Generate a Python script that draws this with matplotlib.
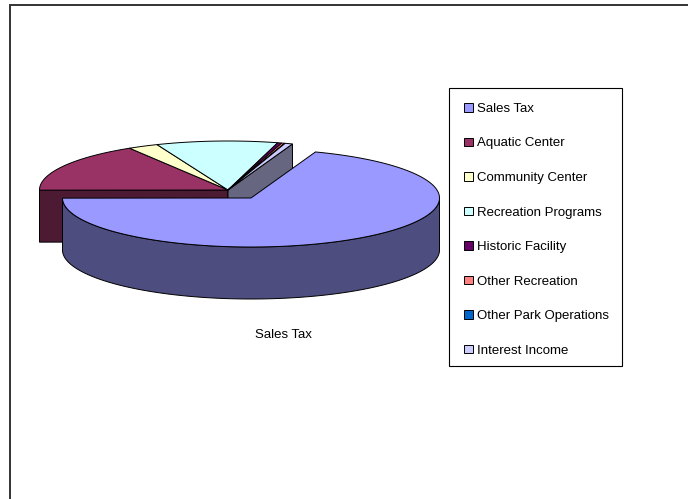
import numpy as np
import matplotlib
matplotlib.use("Agg")
import matplotlib.pyplot as plt
from matplotlib.patches import Polygon, Patch, Rectangle
from matplotlib.legend_handler import HandlerPatch

plt.rcParams['font.family'] = ['Liberation Sans', 'DejaVu Sans']

categories = ["Sales Tax", "Aquatic Center", "Community Center", "Recreation Programs",
              "Historic Facility", "Other Recreation", "Other Park Operations", "Interest Income"]
shares = [69.4, 16.3, 2.6, 10.4, 0.35, 0.25, 0.05, 0.65]
top_colors = ["#9999FF", "#993366", "#FFFFCC", "#CCFFFF", "#660066", "#FF8080", "#0066CC", "#CCCCFF"]
side_colors = ["#4D4D80", "#4D1A33", "#808066", "#668080", "#330033", "#804040", "#003366", "#666680"]
title = "Sales Tax"

# pie geometry in pixels
center = (228.0, 190.0)
explode_center = (251.0, 198.0)
rx, ry = 188.5, 49.0
depth = 52.0
start_deg = 20.0  # clockwise from north


def rim(cx, cy, a0, a1):
    a = np.radians(np.linspace(a0, a1, max(int(abs(a1 - a0) * 2), 2)))
    return np.column_stack([cx + rx * np.sin(a), cy - ry * np.cos(a)])


def cut_wall(ax, cx, cy, a, side):
    p = rim(cx, cy, a, a)[0]
    wall = [(cx, cy), p, (p[0], p[1] + depth), (cx, cy + depth)]
    ax.add_patch(Polygon(wall, closed=True, fc=side, ec="black", lw=0.7))


def outer_wall(ax, cx, cy, a0, a1, side):
    # only the front half of the ellipse can be seen
    lo, hi = max(a0, 90), min(a1, 270)
    edge = rim(cx, cy, lo, hi)
    wall = np.vstack([edge, edge[::-1] + [0, depth]])
    ax.add_patch(Polygon(wall, closed=True, fc=side, ec="black", lw=0.7))


def top_face(ax, cx, cy, a0, a1, top):
    pts = np.vstack([[(cx, cy)], rim(cx, cy, a0, a1)])
    ax.add_patch(Polygon(pts, closed=True, fc=top, ec="black", lw=0.7))


def inset_square(legend, orig_handle, xdescent, ydescent, width, height, fontsize):
    # legend key sits a bit to the right of the box padding
    side = 8.5 * 72 / 100
    return Rectangle((width - side - 0.5, (height - side) / 2 - ydescent), side, side)


fig = plt.figure(figsize=(6.88, 4.99), dpi=100)
ax = fig.add_axes([0, 0, 1, 1])
ax.set_xlim(0, 688)
ax.set_ylim(499, 0)
ax.axis("off")

# chart frame runs off the right and bottom of the image
ax.plot([10, 10, 688], [499, 5, 5], color="#333333", lw=1.4, solid_joinstyle="miter")

edges = start_deg + np.cumsum([0] + shares) * 3.6

# the rest of the pie first, walls then tops
cut_wall(ax, center[0], center[1], edges[1], side_colors[1])
cut_wall(ax, center[0], center[1], edges[-1], side_colors[-1])
for i in range(1, len(shares)):
    top_face(ax, center[0], center[1], edges[i], edges[i + 1], top_colors[i])

# pulled out slice on top
outer_wall(ax, explode_center[0], explode_center[1], edges[0], edges[1], side_colors[0])
top_face(ax, explode_center[0], explode_center[1], edges[0], edges[1], top_colors[0])

ax.text(283.5, 335, title, fontsize=9.5, ha="center", va="center", color="black")

# legend box drawn apart, its padding is not the same on all sides
ax.add_patch(Rectangle((449, 88), 173, 277.5, fc="white", ec="black", lw=0.8))
handles = [Patch(fc=c, ec="black", lw=0.7) for c in top_colors]
leg = ax.legend(handles, categories, loc="upper left", bbox_to_anchor=(449 / 688, 1 - 89.5 / 499),
                handler_map={Patch: HandlerPatch(patch_func=inset_square)},
                fontsize=9.5, frameon=False,
                handlelength=0.85, handleheight=0.7, handletextpad=0.3,
                labelspacing=1.69, borderpad=1.0, borderaxespad=0, labelcolor="black")

fig.savefig("out.png", dpi=100)
plt.close(fig)
